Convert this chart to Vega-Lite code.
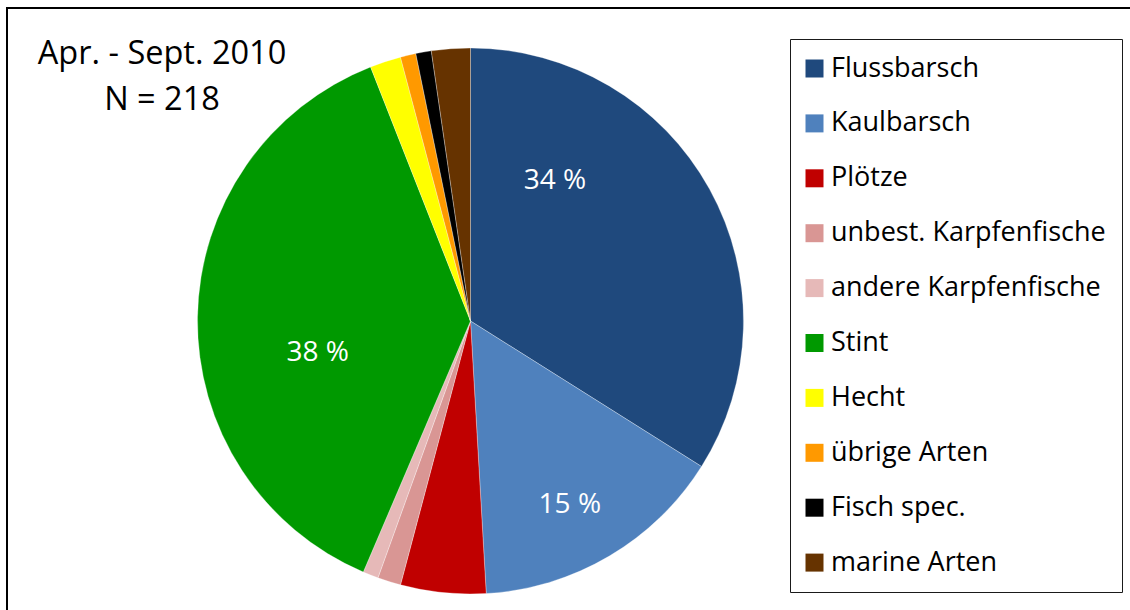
{
  "$schema": "https://vega.github.io/schema/vega-lite/v6.json",
  "width": 1123,
  "height": 602,
  "autosize": {"type": "none"},
  "padding": {"left": 7, "top": 8, "right": 0, "bottom": 0},
  "background": "white",
  "view": {"stroke": "black", "strokeWidth": 2, "strokeDash": [1123, 1725, 602], "fill": "white"},
  "config": {
    "view": {"stroke": "black", "strokeWidth": 2, "strokeDash": [1123, 1725, 602]},
    "font": "Open Sans"
  },
  "title": {
    "text": ["Apr. - Sept. 2010", "N = 218"],
    "orient": "top",
    "anchor": "start",
    "frame": "group",
    "align": "center",
    "baseline": "top",
    "dx": 155,
    "offset": -108,
    "fontSize": 32.5,
    "fontWeight": "normal",
    "font": "Open Sans",
    "color": "black",
    "lineHeight": 46
  },
  "data": {
    "values": [
      {"species": "Flussbarsch", "count": 74, "rank": 1, "label": "34 %"},
      {"species": "Kaulbarsch", "count": 33, "rank": 2, "label": "15 %"},
      {"species": "Plötze", "count": 11, "rank": 3, "label": ""},
      {"species": "unbest. Karpfenfische", "count": 3, "rank": 4, "label": ""},
      {"species": "andere Karpfenfische", "count": 2, "rank": 5, "label": ""},
      {"species": "Stint", "count": 82, "rank": 6, "label": "38 %"},
      {"species": "Hecht", "count": 4, "rank": 7, "label": ""},
      {"species": "übrige Arten", "count": 2, "rank": 8, "label": ""},
      {"species": "Fisch spec.", "count": 2, "rank": 9, "label": ""},
      {"species": "marine Arten", "count": 5, "rank": 10, "label": ""}
    ]
  },
  "encoding": {
    "theta": {"field": "count", "type": "quantitative", "stack": true},
    "order": {"field": "rank", "type": "quantitative"}
  },
  "layer": [
    {
      "mark": {"type": "arc", "outerRadius": 273, "xOffset": -98, "yOffset": 12, "stroke": "white", "strokeWidth": 0.3},
      "encoding": {
        "color": {
          "field": "species",
          "type": "nominal",
          "scale": {
            "domain": ["Flussbarsch", "Kaulbarsch", "Plötze", "unbest. Karpfenfische", "andere Karpfenfische", "Stint", "Hecht", "übrige Arten", "Fisch spec.", "marine Arten"],
            "range": ["#1F497D", "#4F81BD", "#C00000", "#D99694", "#E6B9B8", "#009900", "#FFFF00", "#FF9900", "#000000", "#663300"]
          },
          "legend": {
            "title": null,
            "orient": "none",
            "legendX": 783,
            "legendY": 31,
            "symbolType": "square",
            "symbolSize": 324,
            "symbolStrokeWidth": 0,
            "symbolOffset": -5,
            "labelFontSize": 27,
            "labelFont": "Open Sans",
            "labelColor": "black",
            "labelOffset": 3,
            "labelLimit": 400,
            "rowPadding": 26.9,
            "padding": 16,
            "strokeColor": "#1a1a1a",
            "fillColor": "white"
          }
        }
      }
    },
    {
      "mark": {"type": "text", "radius": 163.5, "thetaOffset": -0.524, "xOffset": -98, "yOffset": 12, "fontSize": 28, "color": "white", "align": "center", "baseline": "middle"},
      "encoding": {
        "text": {"condition": {"test": "datum.species === 'Flussbarsch'", "field": "label"}, "value": ""}
      }
    },
    {
      "mark": {"type": "text", "radius": 209, "thetaOffset": 0.038, "xOffset": -98, "yOffset": 12, "fontSize": 28, "color": "white", "align": "center", "baseline": "middle"},
      "encoding": {
        "text": {"condition": {"test": "datum.species === 'Kaulbarsch'", "field": "label"}, "value": ""}
      }
    },
    {
      "mark": {"type": "text", "radius": 156, "thetaOffset": -0.22, "xOffset": -98, "yOffset": 12, "fontSize": 28, "color": "white", "align": "center", "baseline": "middle"},
      "encoding": {
        "text": {"condition": {"test": "datum.species === 'Stint'", "field": "label"}, "value": ""}
      }
    }
  ]
}
